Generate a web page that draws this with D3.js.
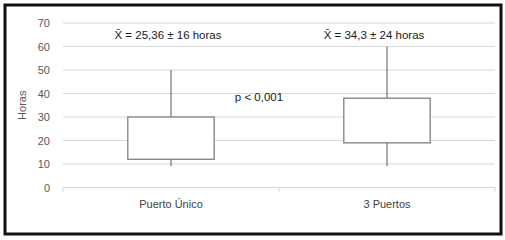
<!DOCTYPE html>
<html lang="es">
<head>
<meta charset="UTF-8">
<script src="https://d3js.org/d3.v7.min.js"></script>
<style>
  body { margin: 0; background: #fff; }
  text { font-family: "Liberation Sans", "DejaVu Sans", sans-serif; }
</style>
</head>
<body>
<svg width="505" height="240"></svg>
<script>
// datos
const categorias = ["Puerto Único", "3 Puertos"];
const bigoteInf = [9, 9];
const q1 = [12, 19];
const q3 = [30, 38];
const bigoteSup = [50, 60];
const etiquetasMedia = ["X\u0304 = 25,36 ± 16 horas", "X\u0304 = 34,3 ± 24 horas"];
const ticksY = [0, 10, 20, 30, 40, 50, 60, 70];
const textoP = "p < 0,001";

const svg = d3.select("svg");

// marco negro
svg.append("rect")
  .attr("x", 5).attr("y", 5)
  .attr("width", 496).attr("height", 229)
  .attr("fill", "none")
  .attr("stroke", "#111")
  .attr("stroke-width", 3);

const y = d3.scaleLinear().domain([0, 70]).range([187.5, 23]);
const x = d3.scaleBand().domain(categorias).range([63, 495]);

// lineas de cuadricula
svg.selectAll("line.grid")
  .data(ticksY)
  .enter()
  .append("line")
  .attr("class", "grid")
  .attr("x1", 63)
  .attr("x2", 495)
  .attr("y1", d => y(d))
  .attr("y2", d => y(d))
  .attr("stroke", "#d9d9d9")
  .attr("stroke-width", 1.2);

// marcas del eje x
const bordes = [63].concat(categorias.map(c => x(c) + x.bandwidth()));
svg.selectAll("line.tick")
  .data(bordes)
  .enter()
  .append("line")
  .attr("x1", d => d).attr("x2", d => d)
  .attr("y1", y(0)).attr("y2", y(0) + 4)
  .attr("stroke", "#d9d9d9")
  .attr("stroke-width", 1.2);

// numeros del eje y
svg.selectAll("text.ytick")
  .data(ticksY)
  .enter()
  .append("text")
  .attr("class", "ytick")
  .attr("x", 50)
  .attr("y", d => y(d) + 4)
  .attr("text-anchor", "end")
  .attr("font-size", 11)
  .attr("fill", "#595959")
  .text(d => d);

// titulo eje y
svg.append("text")
  .attr("transform", "translate(26," + y(35) + ") rotate(-90)")
  .attr("text-anchor", "middle")
  .attr("font-size", 11)
  .attr("fill", "#595959")
  .text("Horas");

// etiquetas categorias
svg.selectAll("text.cat")
  .data(categorias)
  .enter()
  .append("text")
  .attr("x", d => x(d) + x.bandwidth() / 2)
  .attr("y", 208)
  .attr("text-anchor", "middle")
  .attr("font-size", 11)
  .attr("fill", "#404040")
  .text(d => d);

const anchoCaja = x.bandwidth() * 0.4;
const centro = i => x(categorias[i]) + x.bandwidth() / 2;

categorias.forEach(function (c, i) {
  const cx = centro(i);
  // bigote superior
  svg.append("line")
    .attr("x1", cx).attr("x2", cx)
    .attr("y1", y(bigoteSup[i])).attr("y2", y(q3[i]))
    .attr("stroke", "#7f7f7f").attr("stroke-width", 1.3);
  // bigote inferior
  svg.append("line")
    .attr("x1", cx).attr("x2", cx)
    .attr("y1", y(q1[i])).attr("y2", y(bigoteInf[i]))
    .attr("stroke", "#7f7f7f").attr("stroke-width", 1.3);
  // caja
  svg.append("rect")
    .attr("x", cx - anchoCaja / 2)
    .attr("y", y(q3[i]))
    .attr("width", anchoCaja)
    .attr("height", y(q1[i]) - y(q3[i]))
    .attr("fill", "#fff")
    .attr("stroke", "#7f7f7f")
    .attr("stroke-width", 1.3);
});

// medias
svg.selectAll("text.media")
  .data(etiquetasMedia)
  .enter()
  .append("text")
  .attr("x", (d, i) => centro(i) + [-3, -13][i])
  .attr("y", y(65) + 4)
  .attr("text-anchor", "middle")
  .attr("font-size", 11.5)
  .attr("fill", "#1a1a1a")
  .text(d => d);

// p valor
svg.append("text")
  .attr("x", x(categorias[1]) - 20)
  .attr("y", y(38) + 3)
  .attr("text-anchor", "middle")
  .attr("font-size", 11.5)
  .attr("fill", "#1a1a1a")
  .text(textoP);
</script>
</body>
</html>
